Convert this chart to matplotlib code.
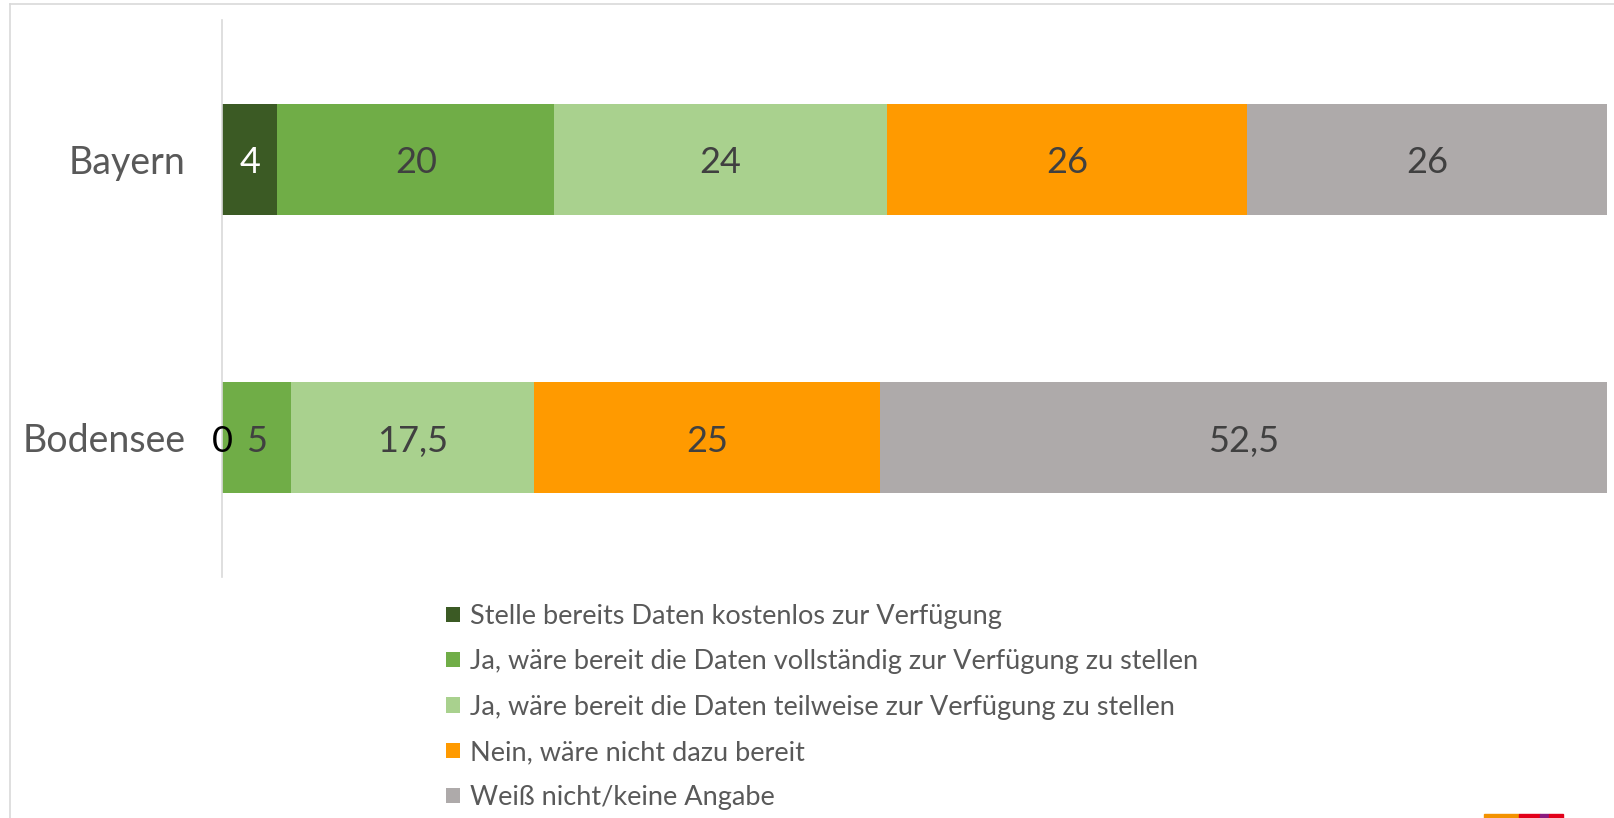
import matplotlib
matplotlib.use("Agg")
import matplotlib.pyplot as plt
from matplotlib.patches import Rectangle
import numpy as np

plt.rcParams["font.family"] = ["Lato", "DejaVu Sans"]

regions = ["Bayern", "Bodensee"]
answers = [
    "Stelle bereits Daten kostenlos zur Verfügung",
    "Ja, wäre bereit die Daten vollständig zur Verfügung zu stellen",
    "Ja, wäre bereit die Daten teilweise zur Verfügung zu stellen",
    "Nein, wäre nicht dazu bereit",
    "Weiß nicht/keine Angabe",
]
bayern = [4, 20, 24, 26, 26]
bodensee = [0, 5, 17.5, 25, 52.5]
colors = ["#3b5a24", "#70ad47", "#a9d18e", "#ff9a00", "#aeaaaa"]
label_colors = ["white", "#404040", "#404040", "#404040", "#404040"]

values = np.array([bayern, bodensee])

W, H = 1615, 818
fig = plt.figure(figsize=(W / 100, H / 100), dpi=100)
fig.patch.set_facecolor("white")

# outer chart frame (Excel style)
fig.add_artist(plt.Line2D([10 / W, 10 / W], [0, 1 - 4 / H], color="#d9d9d9", lw=1.2))
fig.add_artist(plt.Line2D([10 / W, 1], [1 - 4 / H, 1 - 4 / H], color="#d9d9d9", lw=1.2))

ax = fig.add_axes([222 / W, 1 - 577 / H, (1607 - 222) / W, (577 - 20) / H])
y = np.arange(len(regions))
left = np.zeros(len(regions))
for j in range(len(answers)):
    v = values[:, j]
    ax.barh(y, v, left=left, height=0.4, color=colors[j], label=answers[j])
    for i in range(len(regions)):
        txt = f"{v[i]:g}".replace(".", ",")
        col = label_colors[j] if v[i] > 0 else "black"
        ax.text(left[i] + v[i] / 2, y[i] + 0.012, txt, ha="center", va="center",
                fontsize=26, color=col)
    left += v

ax.set_xlim(0, 100)
ax.set_ylim(1.5, -0.5)
ax.set_yticks(y)
ax.set_yticklabels(regions, fontsize=27, color="#595959")
ax.tick_params(axis="y", length=0, pad=26)
ax.set_xticks([])
for s in ["top", "right", "bottom"]:
    ax.spines[s].set_visible(False)
ax.spines["left"].set_color("#d9d9d9")
ax.spines["left"].set_linewidth(1.2)

handles, labels = ax.get_legend_handles_labels()
leg = fig.legend(handles, labels, loc="upper left",
                 bbox_to_anchor=(446 / W, 1 - 604 / H), frameon=False,
                 fontsize=19.5, labelcolor="#595959", handlelength=0.5,
                 handleheight=0.5, handletextpad=0.4, labelspacing=0.75,
                 borderaxespad=0, borderpad=0)

# logo fragment at the bottom right corner
for x0, x1, c in [(1484, 1519, "#f39200"), (1519, 1540, "#e2001a"),
                  (1540, 1549, "#8b1a7f"), (1549, 1563, "#e2001a")]:
    fig.add_artist(Rectangle((x0 / W, 0), (x1 - x0) / W, 4 / H,
                             color=c, transform=fig.transFigure))

fig.savefig("out.png", dpi=100)
